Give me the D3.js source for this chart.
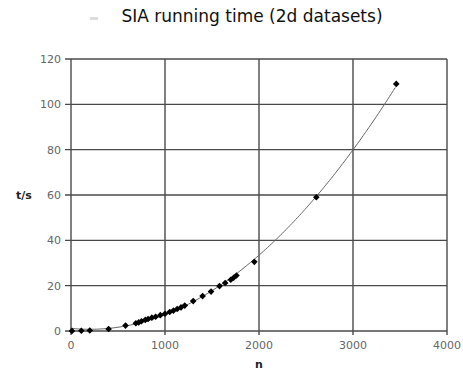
<!DOCTYPE html>
<html>
<head>
<meta charset="utf-8">
<script src="https://cdn.jsdelivr.net/npm/d3@7"></script>
<style>
  body { margin: 0; background: #fff; }
  svg { display: block; }
</style>
</head>
<body>
<div id="chart"></div>
<script>
// data
var sizes = [10, 110, 200, 400, 580, 690, 720, 750, 790, 820, 860, 900, 950, 1000, 1050, 1090, 1130, 1170, 1210, 1300, 1400, 1490, 1580, 1640, 1700, 1730, 1760, 1950, 2610, 3460];
var times = [0.05, 0.1, 0.2, 0.9, 2.4, 3.4, 3.8, 4.3, 4.9, 5.3, 5.9, 6.3, 7.0, 7.6, 8.4, 9.0, 9.7, 10.4, 11.2, 13.2, 15.4, 17.4, 19.8, 21.2, 22.6, 23.5, 24.5, 30.5, 59, 109];
var xTicks = [0, 1000, 2000, 3000, 4000];
var yTicks = [0, 20, 40, 60, 80, 100, 120];

var w = 463, h = 379;
var margin = {top: 59, right: 16, bottom: 48, left: 71};
var width = w - margin.left - margin.right,
    height = h - margin.top - margin.bottom;

var svg = d3.select("#chart").append("svg")
  .attr("width", w)
  .attr("height", h);

svg.append("text")
  .attr("x", 252)
  .attr("y", 22)
  .attr("text-anchor", "middle")
  .attr("font-family", "DejaVu Sans, sans-serif")
  .attr("font-size", "17px")
  .attr("fill", "#111")
  .text("SIA running time (2d datasets)");

// faint smudge left of the title
svg.append("rect")
  .attr("x", 90).attr("y", 17).attr("width", 8).attr("height", 3)
  .attr("fill", "#ddd");

var g = svg.append("g")
  .attr("transform", "translate(" + margin.left + "," + margin.top + ")");

var x = d3.scaleLinear().domain([0, 4000]).range([0, width]);
var y = d3.scaleLinear().domain([0, 120]).range([height, 0]);

// grid
g.append("g")
  .selectAll("line")
  .data(yTicks)
  .enter().append("line")
  .attr("x1", -6).attr("x2", width)
  .attr("y1", function(d) { return y(d); })
  .attr("y2", function(d) { return y(d); })
  .attr("stroke", "#4a4a4a")
  .attr("stroke-width", 1.4);

g.append("g")
  .selectAll("line")
  .data(xTicks)
  .enter().append("line")
  .attr("y1", 0).attr("y2", height + 4)
  .attr("x1", function(d) { return x(d); })
  .attr("x2", function(d) { return x(d); })
  .attr("stroke", "#4a4a4a")
  .attr("stroke-width", 1.4);

// tick labels
g.append("g")
  .selectAll("text")
  .data(yTicks)
  .enter().append("text")
  .attr("x", -10)
  .attr("y", function(d) { return y(d) + 4; })
  .attr("text-anchor", "end")
  .attr("font-family", "DejaVu Sans, sans-serif")
  .attr("font-size", "11px")
  .attr("fill", "#666")
  .text(function(d) { return d; });

g.append("g")
  .selectAll("text")
  .data(xTicks)
  .enter().append("text")
  .attr("x", function(d) { return x(d); })
  .attr("y", height + 18)
  .attr("text-anchor", "middle")
  .attr("font-family", "DejaVu Sans, sans-serif")
  .attr("font-size", "11px")
  .attr("fill", "#666")
  .text(function(d) { return d; });

// axis titles
svg.append("text")
  .attr("x", 16).attr("y", y(60) + margin.top + 4)
  .attr("font-family", "DejaVu Sans, sans-serif")
  .attr("font-size", "11px")
  .attr("font-weight", "bold")
  .attr("fill", "#222")
  .text("t/s");

svg.append("text")
  .attr("x", margin.left + x(2000)).attr("y", 368)
  .attr("text-anchor", "middle")
  .attr("font-family", "DejaVu Sans, sans-serif")
  .attr("font-size", "11px")
  .attr("font-weight", "bold")
  .attr("fill", "#222")
  .text("n");

// polynomial (order 2) trendline, least squares on the points
function fitQuad(xs, ys) {
  var s = [0, 0, 0, 0, 0], r = [0, 0, 0];
  for (var i = 0; i < xs.length; i++) {
    var p = 1;
    for (var k = 0; k < 5; k++) { s[k] += p; if (k < 3) r[k] += p * ys[i]; p *= xs[i]; }
  }
  var m = [[s[0], s[1], s[2], r[0]], [s[1], s[2], s[3], r[1]], [s[2], s[3], s[4], r[2]]];
  for (var c = 0; c < 3; c++) {
    for (var j = c + 1; j < 3; j++) {
      var f = m[j][c] / m[c][c];
      for (var k = c; k < 4; k++) m[j][k] -= f * m[c][k];
    }
  }
  var co = [0, 0, 0];
  for (var c = 2; c >= 0; c--) {
    var v = m[c][3];
    for (var k = c + 1; k < 3; k++) v -= m[c][k] * co[k];
    co[c] = v / m[c][c];
  }
  return co;
}
var co = fitQuad(sizes, times);
var trend = d3.range(d3.min(sizes), d3.max(sizes) + 1, 20).map(function(n) {
  return [n, co[0] + co[1] * n + co[2] * n * n];
});

g.append("path")
  .attr("d", d3.line().x(function(d) { return x(d[0]); }).y(function(d) { return y(Math.max(0, d[1])); })(trend))
  .attr("fill", "none")
  .attr("stroke", "#666")
  .attr("stroke-width", 1);

// points
g.append("g")
  .selectAll("path")
  .data(sizes)
  .enter().append("path")
  .attr("d", d3.symbol().type(d3.symbolSquare).size(22))
  .attr("transform", function(d, i) { return "translate(" + x(d) + "," + y(times[i]) + ") rotate(45)"; })
  .attr("fill", "#000");
</script>
</body>
</html>
